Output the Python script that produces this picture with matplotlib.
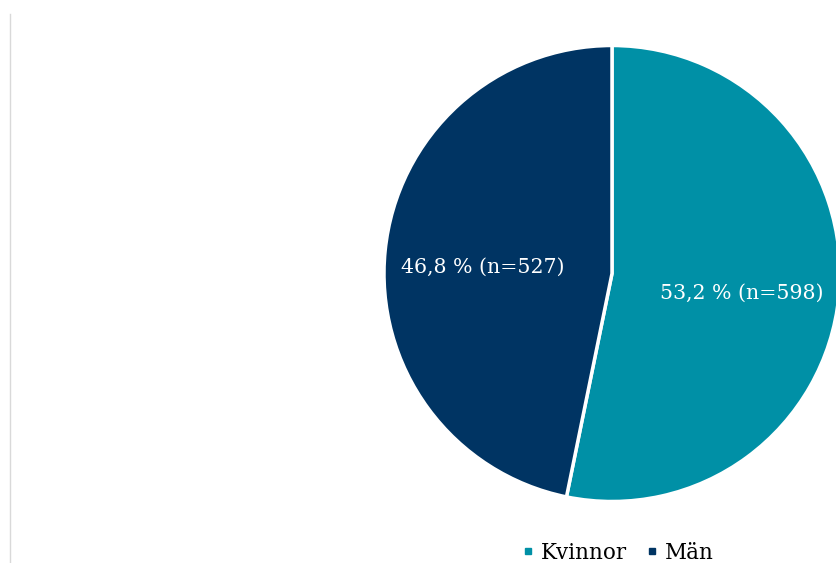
import numpy as np
import matplotlib.pyplot as plt
from matplotlib.lines import Line2D

plt.rcParams['font.family'] = ['DejaVu Serif']

names = ['Kvinnor', 'Män']
counts = [598, 527]
shares = [53.2, 46.8]
colors = ['#0090a6', '#003463']

fig = plt.figure(figsize=(8.37, 5.63), dpi=100)
W, H = 837, 563

# pie axes in pixel units: centre (612, 273.5), radius 228
cx, cy, r = 612, 289.5, 228
ax = fig.add_axes([(cx - r) / W, (cy - r) / H, 2 * r / W, 2 * r / H])
wedges, _ = ax.pie(shares, colors=colors, startangle=90, counterclock=False,
                   wedgeprops=dict(edgecolor='white', linewidth=2.5))
ax.set_xlim(-1, 1)
ax.set_ylim(-1, 1)
ax.set_aspect('equal')

for w, s, n in zip(wedges, shares, counts):
    ang = np.deg2rad((w.theta1 + w.theta2) / 2)
    txt = f"{s:.1f} % (n={n})".replace('.', ',')
    ax.text(0.57 * np.cos(ang), 0.57 * np.sin(ang) - 0.03, txt, color='white',
            ha='center', va='center', fontsize=14.8)

# thin frame line at the left
fig.add_artist(Line2D([10.5 / W, 10.5 / W], [0, 1 - 14 / H], color='#d9d9d9', lw=1))

handles = [Line2D([], [], marker='s', ls='', color=c, markersize=5) for c in colors]
fig.legend(handles, names, loc='center', bbox_to_anchor=(618 / W, 1 - 553 / H),
           ncol=2, frameon=False, fontsize=15.5, handlelength=0.5,
           handletextpad=0.35, columnspacing=0.9)

fig.savefig('out.png', dpi=100)
